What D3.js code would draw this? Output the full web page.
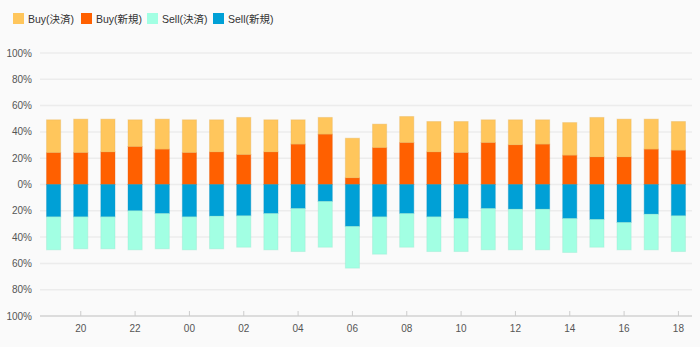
<!DOCTYPE html>
<html>
<head>
<meta charset="utf-8">
<script src="https://cdn.jsdelivr.net/npm/d3@7"></script>
<style>
  body { margin: 0; background: #fafafa; }
  svg { display: block; font-family: 'Liberation Sans', 'Noto Sans CJK JP', sans-serif; }
</style>
</head>
<body>
<svg id="chart" width="700" height="347"></svg>
<script>
let hours = ['19', '20', '21', '22', '23', '00', '01', '02', '03', '04', '05', '06',
  '07', '08', '09', '10', '11', '12', '13', '14', '15', '16', '17', '18']
let buyNew = [24.3, 24.3, 24.8, 28.9, 26.9, 24.3, 24.8, 22.8, 24.8, 30.7, 38.3, 5.1,
  28.1, 31.9, 24.8, 24.3, 31.9, 30.2, 30.7, 22.3, 21.0, 21.0, 26.9, 26.1]
let buyClose = [24.9, 25.4, 24.9, 20.3, 22.8, 24.9, 24.4, 28.2, 24.4, 18.5, 12.7, 30.1,
  17.8, 19.8, 23.1, 23.6, 17.3, 19.0, 18.5, 24.8, 30.0, 28.7, 22.8, 21.8]
let sellNew = [24.6, 24.6, 24.6, 20.0, 22.1, 24.6, 24.1, 23.8, 22.1, 18.3, 12.9, 31.9,
  24.6, 22.1, 24.6, 25.9, 18.3, 18.8, 18.8, 25.9, 26.6, 28.9, 22.6, 23.8]
let sellClose = [25.1, 24.3, 24.3, 29.7, 26.8, 25.1, 24.8, 23.9, 27.6, 32.7, 34.8, 31.7,
  28.4, 25.6, 26.4, 25.1, 31.4, 30.9, 30.9, 25.8, 21.1, 20.8, 27.1, 27.2]
let yTicks = [100, 80, 60, 40, 20, 0, -20, -40, -60, -80, -100]
let xTickLabels = ['20', '22', '00', '02', '04', '06', '08', '10', '12', '14', '16', '18']

let seriesNames = ['Buy(決済)', 'Buy(新規)', 'Sell(決済)', 'Sell(新規)']
let colors = {
  'Buy(決済)': '#ffc65c',
  'Buy(新規)': '#ff6000',
  'Sell(決済)': '#a2ffe3',
  'Sell(新規)': '#00a0d6'
}

let svg = d3.select('#chart')
let box = {left: 40, right: 692, top: 53, bottom: 316}

let x = d3.scaleBand()
  .domain(hours)
  .range([box.left, box.right])
  .paddingInner(0.48)
  .paddingOuter(0.24)
let y = d3.scaleLinear()
  .domain([-100, 100])
  .range([box.bottom, box.top])

// gridlines
svg.append('g')
  .selectAll('line')
  .data(yTicks.filter(function (d) { return d !== -100 }))
  .enter()
  .append('line')
  .attr('x1', box.left)
  .attr('x2', box.right)
  .attr('y1', function (d) { return y(d) })
  .attr('y2', function (d) { return y(d) })
  .attr('stroke', '#ececec')
  .attr('stroke-width', 1.5)

// y labels
svg.append('g')
  .selectAll('text')
  .data(yTicks)
  .enter()
  .append('text')
  .text(function (d) { return Math.abs(d) + '%' })
  .attr('x', 32)
  .attr('y', function (d) { return y(d) + 3.5 })
  .attr('text-anchor', 'end')
  .style('font-size', '10px')
  .attr('fill', '#555')

// stacked segments
let rows = hours.map(function (h, i) {
  return [
    {key: 'Buy(新規)', y0: 0, y1: buyNew[i], h: h},
    {key: 'Buy(決済)', y0: buyNew[i], y1: buyNew[i] + buyClose[i], h: h},
    {key: 'Sell(新規)', y0: 0, y1: -sellNew[i], h: h},
    {key: 'Sell(決済)', y0: -sellNew[i], y1: -sellNew[i] - sellClose[i], h: h}
  ]
})
svg.append('g')
  .selectAll('rect')
  .data(rows.flat())
  .enter()
  .append('rect')
  .attr('x', function (d) { return x(d.h) })
  .attr('width', x.bandwidth())
  .attr('y', function (d) { return y(Math.max(d.y0, d.y1)) })
  .attr('height', function (d) { return Math.abs(y(d.y0) - y(d.y1)) })
  .attr('fill', function (d) { return colors[d.key] })
  .attr('stroke', function (d) { return d3.color(colors[d.key]).darker(0.3) })
  .attr('stroke-opacity', 0.35)
  .attr('stroke-width', 1)

// x axis
svg.append('line')
  .attr('x1', box.left)
  .attr('x2', box.right)
  .attr('y1', box.bottom)
  .attr('y2', box.bottom)
  .attr('stroke', '#dcdcdc')
  .attr('stroke-width', 2)
let xt = svg.append('g')
  .selectAll('g')
  .data(xTickLabels)
  .enter()
  .append('g')
  .attr('transform', function (d) { return 'translate(' + (x(d) + x.bandwidth() / 2) + ',0)' })
xt.append('line')
  .attr('y1', box.bottom - 5)
  .attr('y2', box.bottom)
  .attr('stroke', '#ccc')
xt.append('text')
  .text(function (d) { return d })
  .attr('y', 332)
  .attr('text-anchor', 'middle')
  .style('font-size', '10px')
  .attr('fill', '#555')

// legend
let lx = [13, 81, 147, 213]
let lg = svg.append('g')
  .selectAll('g')
  .data(seriesNames)
  .enter()
  .append('g')
  .attr('transform', function (d, i) { return 'translate(' + lx[i] + ',13)' })
lg.append('rect')
  .attr('width', 11)
  .attr('height', 11)
  .attr('fill', function (d) { return colors[d] })
lg.append('text')
  .text(function (d) { return d })
  .attr('x', 15)
  .attr('y', 9.5)
  .style('font-size', '10.5px')
  .attr('fill', '#333')
</script>
</body>
</html>
